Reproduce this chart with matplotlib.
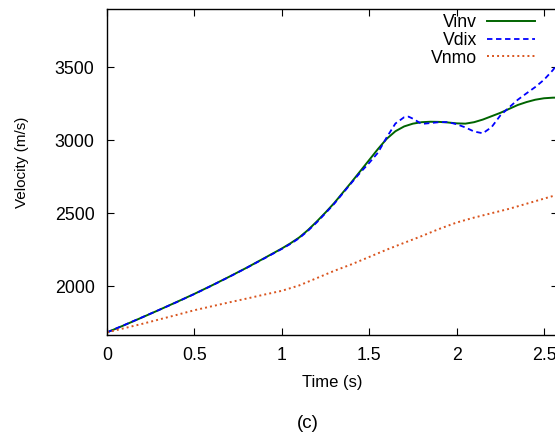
import matplotlib
matplotlib.use("Agg")
import matplotlib.pyplot as plt

plt.rcParams['font.family'] = ['Liberation Sans', 'DejaVu Sans']

# time axis (s)
t_inv = [0.0, 0.1, 0.2, 0.3, 0.4, 0.5, 0.6, 0.7, 0.8, 0.9, 1.0, 1.05, 1.1, 1.15,
         1.2, 1.25, 1.3, 1.4, 1.5, 1.55, 1.6, 1.65, 1.7, 1.75, 1.8, 1.85, 1.9,
         1.95, 2.0, 2.05, 2.1, 2.15, 2.2, 2.25, 2.3, 2.35, 2.4, 2.45, 2.5, 2.55,
         2.6]
v_inv = [1683, 1733, 1785, 1838, 1892, 1947, 2005, 2065, 2127, 2192, 2258, 2294,
         2334, 2385, 2443, 2505, 2570, 2715, 2865, 2940, 3010, 3062, 3095, 3114,
         3124, 3127, 3126, 3122, 3116, 3114, 3124, 3142, 3165, 3188, 3215, 3242,
         3262, 3278, 3288, 3292, 3293]

t_dix = [0.0, 0.1, 0.2, 0.3, 0.4, 0.5, 0.6, 0.7, 0.8, 0.9, 1.0, 1.05, 1.1, 1.15,
         1.2, 1.25, 1.3, 1.4, 1.45, 1.5, 1.55, 1.6, 1.65, 1.7, 1.725, 1.75, 1.8,
         1.85, 1.9, 1.95, 2.0, 2.05, 2.1, 2.15, 2.2, 2.25, 2.3, 2.35, 2.4, 2.45,
         2.5, 2.55, 2.6]
v_dix = [1683, 1734, 1786, 1838, 1891, 1946, 2004, 2064, 2126, 2190, 2255, 2290,
         2329, 2380, 2437, 2500, 2565, 2710, 2780, 2845, 2915, 3020, 3115, 3158,
         3162, 3148, 3112, 3118, 3124, 3125, 3110, 3088, 3060, 3048, 3090, 3170,
         3225, 3278, 3322, 3365, 3415, 3480, 3560]

t_nmo = [0.0, 0.1, 0.2, 0.3, 0.4, 0.5, 0.6, 0.7, 0.8, 0.9, 1.0, 1.1, 1.2, 1.3, 1.4,
         1.5, 1.6, 1.7, 1.8, 1.9, 2.0, 2.1, 2.2, 2.3, 2.4, 2.5, 2.6]
v_nmo = [1683, 1712, 1741, 1772, 1803, 1835, 1862, 1889, 1915, 1942, 1968, 2005,
         2055, 2105, 2150, 2200, 2250, 2297, 2343, 2392, 2436, 2470, 2500, 2530,
         2565, 2600, 2635]

fig = plt.figure(figsize=(5.55, 4.32), dpi=100)
# axes right edge sits just past the figure edge, as in the cropped original
ax = fig.add_axes([107 / 555, (432 - 335) / 432, 451 / 555, 326 / 432])

ax.plot(t_inv, v_inv, color='#006400', lw=1.4, label='Vinv')
ax.plot(t_dix, v_dix, color='#0000ff', lw=1.3, ls=(0, (3, 2)), label='Vdix')
ax.plot(t_nmo, v_nmo, color='#d9541e', lw=1.4, ls=(0, (1, 1.6)), label='Vnmo')

ax.set_xlim(0, 2.58)
ax.set_ylim(1665, 3900)
ax.set_xticks([0, 0.5, 1, 1.5, 2, 2.5])
ax.set_xticklabels(['0', '0.5', '1', '1.5', '2', '2.5'])
ax.set_yticks([2000, 2500, 3000, 3500])
ax.tick_params(direction='in', top=True, right=True, length=5, width=0.8,
               labelsize=12.8)
ax.tick_params(axis='x', pad=9)
ax.tick_params(axis='y', pad=9)
for s in ax.spines.values():
    s.set_linewidth(1.0)

fig.text(332 / 555, 1 - 382 / 432, 'Time (s)', ha='center', va='center', fontsize=12)
fig.text(22 / 555, 1 - 162 / 432, 'Velocity (m/s)', ha='center', va='center',
         rotation=90, fontsize=11)

leg = ax.legend(loc='upper right', bbox_to_anchor=(0.948, 0.985), frameon=False,
                markerfirst=False, fontsize=12.7, handlelength=2.7,
                handletextpad=0.57, labelspacing=0.05, borderpad=0,
                borderaxespad=0)
for txt in leg.get_texts():
    txt.set_ha('right')

fig.text(308 / 555, 1 - 424 / 432, '(c)', ha='center', va='center', fontsize=13.5)

fig.savefig('out.png', dpi=100)
